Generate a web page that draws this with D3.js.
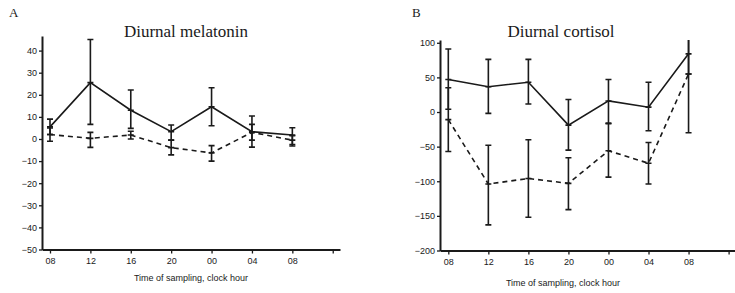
<!DOCTYPE html>
<html>
<head>
<meta charset="utf-8">
<script src="https://cdn.jsdelivr.net/npm/d3@7"></script>
<style>
  body { margin: 0; background: #fff; }
  svg { display: block; }
</style>
</head>
<body>
<div class="vis-chart"></div>
<script>
// sampling hours (index based, 08 appears twice)
const hours = ["08", "12", "16", "20", "00", "04", "08"];

// Diurnal melatonin
const melSolidMean = [5.5, 25.5, 13, 3.3, 14.6, 3.3, 1.8];
const melSolidLo = [2, 6.6, 4.8, -0.5, 6, -3.7, -3.2];
const melSolidHi = [9, 45, 22.2, 6.3, 23.2, 10.4, 5.1];
const melDashMean = [2, 0.3, 1.8, -3.9, -6.3, 3, -0.5];
const melDashLo = [-1, -3.8, 0, -7.2, -10, -0.5, -2.5];
const melDashHi = [5, 3, 3.5, -0.5, -3, 6.6, 1.5];
const melTicks = [-50, -40, -30, -20, -10, 0, 10, 20, 30, 40];

// Diurnal cortisol
const corSolidMean = [47, 36.5, 43, -19, 16, 7, 84];
const corSolidLo = [4, -2, 11.6, -55, -16, -27, 55];
const corSolidHi = [91, 76, 76, 18, 47, 43, 110];
const corDashMean = [-11, -104, -96, -103, -56, -74, 55];
const corDashLo = [-57, -163, -152, -141, -94, -104, -30];
const corDashHi = [35, -48, -40, -66, -17, -44, 140];
const corTicks = [-200, -150, -100, -50, 0, 50, 100];

const INK = "#1a1a1a";

const svg = d3.select(".vis-chart")
    .append("svg")
    .attr("width", 735)
    .attr("height", 293);

const toRows = (mean, lo, hi) => mean.map((m, i) => ({ i: i, m: m, lo: lo[i], hi: hi[i] }));

const draw = (p) => {
    const g = svg.append("g").attr("class", "panel-" + p.letter);

    const x = d3.scaleLinear().domain(p.xDomain).range(p.xRange);
    const y = d3.scaleLinear().domain(p.yDomain).range(p.yRange);

    // panel letter + title
    g.append("text")
        .attr("x", p.letterX).attr("y", 17)
        .style("font-family", "'Liberation Serif', serif")
        .style("font-size", "13px")
        .attr("fill", INK)
        .text(p.letter);
    g.append("text")
        .attr("x", p.titleX).attr("y", 37)
        .attr("text-anchor", "middle")
        .style("font-family", "'Liberation Serif', serif")
        .style("font-size", "17px")
        .attr("fill", INK)
        .text(p.title);

    // clip so bars stop at top of the axis
    const clipId = "clip-" + p.letter;
    g.append("defs").append("clipPath").attr("id", clipId)
        .append("rect")
        .attr("x", p.xRange[0]).attr("y", p.yRange[1])
        .attr("width", p.xRange[1] - p.xRange[0])
        .attr("height", p.yRange[0] - p.yRange[1]);

    // axes
    const yAxis = g.append("g")
        .attr("transform", "translate(" + p.xRange[0] + ",0)")
        .call(d3.axisLeft(y).tickValues(p.yTicks).tickSize(3).tickSizeOuter(0).tickPadding(2));
    const xAxis = g.append("g")
        .attr("transform", "translate(0," + p.yRange[0] + ")")
        .call(d3.axisBottom(x).tickValues(d3.range(8)).tickSize(4).tickSizeOuter(0).tickPadding(4)
            .tickFormat(i => hours[i] || ""));
    [yAxis, xAxis].forEach(a => {
        a.select(".domain").attr("stroke", INK).attr("stroke-width", 2);
        a.selectAll(".tick line").attr("stroke", INK).attr("stroke-width", 1.3);
        a.selectAll(".tick text")
            .attr("fill", INK)
            .style("font-family", "'Liberation Sans', Arial, sans-serif")
            .style("font-size", "9px");
    });

    g.append("text")
        .attr("x", p.xTitleX).attr("y", p.xTitleY)
        .attr("text-anchor", "middle")
        .style("font-family", "'Liberation Sans', Arial, sans-serif")
        .style("font-size", "9px")
        .attr("fill", INK)
        .text("Time of sampling, clock hour");

    const plot = g.append("g").attr("clip-path", "url(#" + clipId + ")");

    const line = d3.line().x(d => x(d.i)).y(d => y(d.m));

    p.series.forEach(s => {
        const rows = toRows(s.mean, s.lo, s.hi);
        plot.append("path")
            .attr("d", line(rows))
            .attr("fill", "none")
            .attr("stroke", INK)
            .attr("stroke-width", 1.6)
            .attr("stroke-dasharray", s.dashed ? "5,4" : null);

        const bars = plot.append("g").selectAll("g")
            .data(rows)
            .join("g")
            .attr("stroke", INK)
            .attr("stroke-width", 1.6);
        bars.append("line")
            .attr("x1", d => x(d.i)).attr("x2", d => x(d.i))
            .attr("y1", d => y(d.lo)).attr("y2", d => y(d.hi));
        // caps and mean mark
        ["lo", "hi", "m"].forEach(k => {
            bars.append("line")
                .attr("x1", d => x(d.i) - 3).attr("x2", d => x(d.i) + 3)
                .attr("y1", d => y(d[k])).attr("y2", d => y(d[k]));
        });
    });
};

draw({
    letter: "A", letterX: 9, title: "Diurnal melatonin", titleX: 186,
    xDomain: [-0.198, 7.18], xRange: [42, 340],
    yDomain: [-50, 46.6], yRange: [249.5, 36], yTicks: melTicks,
    xTitleX: 191, xTitleY: 281,
    series: [
        { mean: melSolidMean, lo: melSolidLo, hi: melSolidHi, dashed: false },
        { mean: melDashMean, lo: melDashLo, hi: melDashHi, dashed: true }
    ]
});

draw({
    letter: "B", letterX: 412, title: "Diurnal cortisol", titleX: 561,
    xDomain: [-0.2075, 7.16], xRange: [440, 735],
    yDomain: [-200, 104], yRange: [250.5, 40], yTicks: corTicks,
    xTitleX: 563, xTitleY: 286,
    series: [
        { mean: corSolidMean, lo: corSolidLo, hi: corSolidHi, dashed: false },
        { mean: corDashMean, lo: corDashLo, hi: corDashHi, dashed: true }
    ]
});
</script>
</body>
</html>
